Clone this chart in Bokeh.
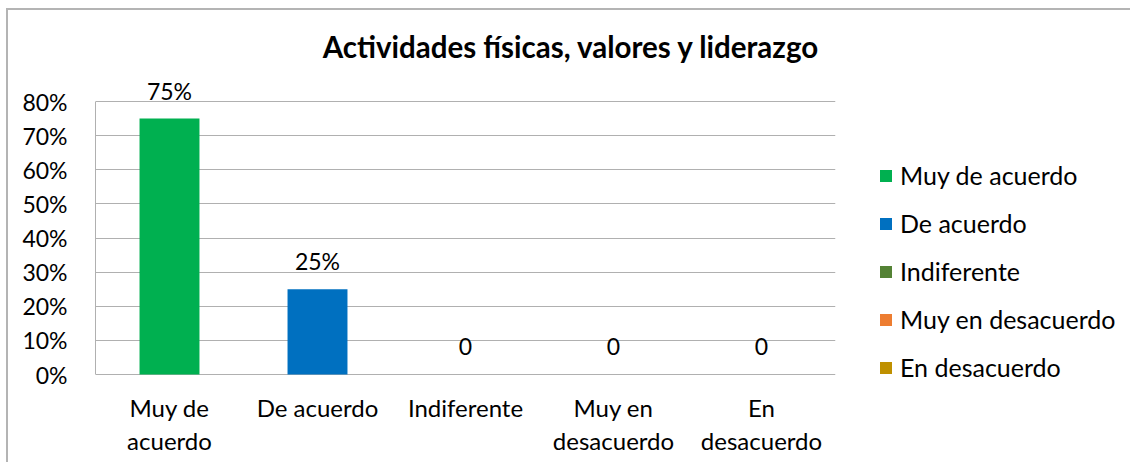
from bokeh.plotting import figure
from bokeh.layouts import row
from bokeh.models import (ColumnDataSource, FactorRange, Range1d, NumeralTickFormatter,
                          Legend, LegendItem, Label, FixedTicker)
from bokeh.embed import file_html
from bokeh.resources import INLINE
from bokeh.core.properties import value

categories = ["Muy de acuerdo", "De acuerdo", "Indiferente", "Muy en desacuerdo", "En desacuerdo"]
tick_labels = ["Muy de\nacuerdo", "De acuerdo", "Indiferente", "Muy en\ndesacuerdo", "En\ndesacuerdo"]
values = [0.75, 0.25, 0.0, 0.0, 0.0]
value_labels = ["75%", "25%", "0", "0", "0"]
colors = ["#00B050", "#0070C0", "#548235", "#ED7D31", "#BF9000"]
y_ticks = [0.0, 0.1, 0.2, 0.3, 0.4, 0.5, 0.6, 0.7, 0.8]
title_text = "Actividades físicas, valores y liderazgo"

FONT = "Lato"
GRID = "#b0b0b0"
BLACK = "#000000"

src = ColumnDataSource(dict(cat=categories, val=values, lab=value_labels, col=colors,
                            tick=tick_labels, zero=[0.0] * len(categories)))

# main chart: frame x 95..835, y 20..460 on the page; 0% at y=374 and 80% at y=101
p = figure(width=832, height=452, x_range=FactorRange(*categories, range_padding=0),
           y_range=Range1d(-0.252, 1.0374), output_backend="svg", toolbar_location=None,
           min_border_left=87, min_border_right=5, min_border_top=10, min_border_bottom=2)
p.outline_line_color = None
p.background_fill_color = "white"
p.border_fill_color = "white"

r = p.vbar(x="cat", top="val", width=0.405, fill_color="col", line_color=None, source=src)
p.text(x="cat", y="val", text="lab", source=src, text_align="center", text_baseline="alphabetic",
       y_offset=-28, text_font=value(FONT), text_font_size="23px", text_color=BLACK)
p.text(x="cat", y="zero", text="tick", source=src, text_align="center", text_baseline="top",
       y_offset=18, text_line_height=1.16, text_font=value(FONT), text_font_size="24px",
       text_color=BLACK)

p.xgrid.grid_line_color = None
p.ygrid.grid_line_color = GRID
p.ygrid.grid_line_width = 1
p.ygrid.ticker = FixedTicker(ticks=y_ticks)
p.xaxis.visible = False

p.yaxis.ticker = FixedTicker(ticks=y_ticks)
p.yaxis.bounds = (0, 0.8)
p.yaxis.formatter = NumeralTickFormatter(format="0%")
p.yaxis.axis_line_color = GRID
p.yaxis.major_tick_line_color = None
p.yaxis.minor_tick_line_color = None
p.yaxis.major_label_text_font = FONT
p.yaxis.major_label_text_font_size = "23px"
p.yaxis.major_label_text_color = BLACK
p.yaxis.major_label_standoff = 22

title = Label(x=476, y=414, x_units="screen", y_units="screen", text=title_text,
              text_align="center", text_baseline="alphabetic", text_font=FONT,
              text_font_style="bold", text_font_size="29.5px", text_color=BLACK)
p.add_layout(title)

# legend panel
p2 = figure(width=290, height=452, x_range=FactorRange(*categories), y_range=Range1d(10, 11),
            output_backend="svg", toolbar_location=None,
            x_axis_location=None, y_axis_location=None,
            min_border_left=0, min_border_right=0, min_border_top=0, min_border_bottom=0)
p2.outline_line_color = None
p2.background_fill_color = "white"
p2.border_fill_color = "white"
p2.grid.visible = False
r2 = p2.vbar(x="cat", top="val", width=0.0, fill_color="col", line_color=None, source=src)

items = [LegendItem(label=c, renderers=[r2], index=i) for i, c in enumerate(categories)]
legend = Legend(items=items, location=(38, 78), orientation="vertical",
                glyph_width=15, glyph_height=15, label_height=20, spacing=18,
                label_standoff=7, padding=0, margin=0,
                border_line_color=None, background_fill_alpha=0,
                label_text_font=FONT, label_text_font_size="25px", label_text_color=BLACK)
p2.add_layout(legend, "center")

layout = row(p, p2, styles={"margin-left": "6px", "margin-top": "8px",
                            "border-left": "2px solid #b4b4b4",
                            "border-top": "2px solid #b4b4b4"})

open("out.html", "w").write(file_html(layout, INLINE))
